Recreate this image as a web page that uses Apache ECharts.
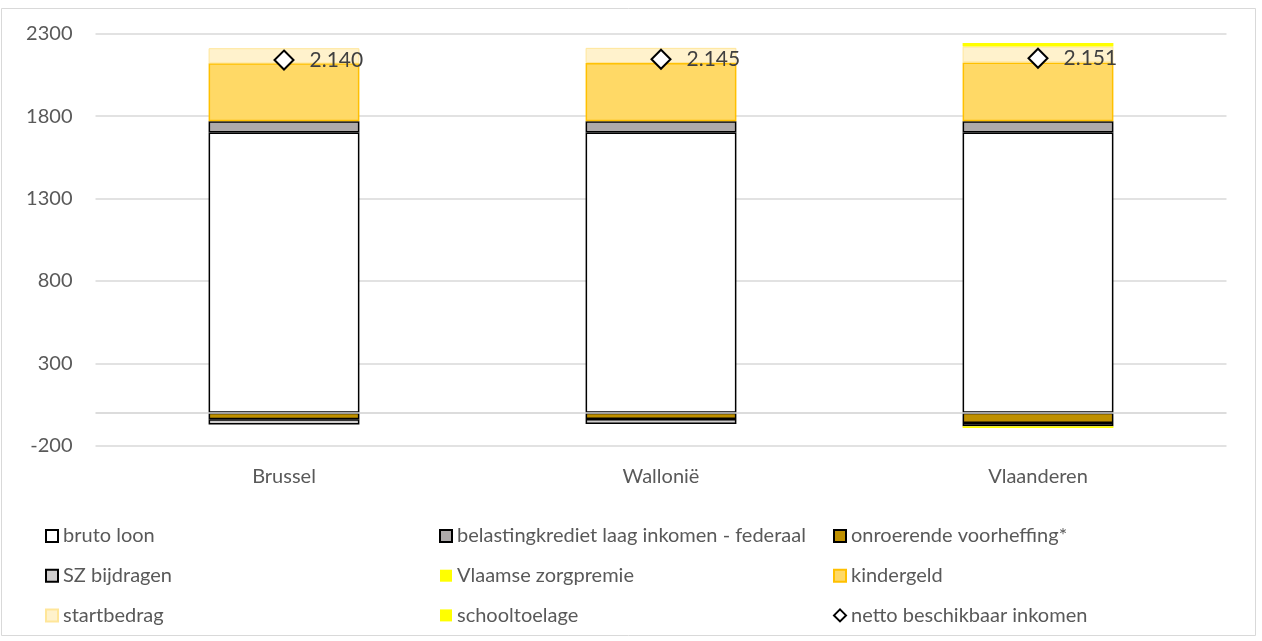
<!DOCTYPE html>
<html>
<head>
<meta charset="utf-8">
<script src="https://cdn.jsdelivr.net/npm/echarts@6/dist/echarts.min.js"></script>
<style>
  html, body { margin: 0; padding: 0; background: #fff; }
  #chart { width: 1262px; height: 641px; }
</style>
</head>
<body>
<div id="chart"></div>
<script>
// Monthly budget per region (EUR), stacked components and resulting net income
const regions = ['Brussel', 'Wallonië', 'Vlaanderen'];
const brutoLoon       = [1700, 1700, 1700];
const belastingkrediet = [68, 68, 68];
const onroerende      = [-40, -38, -62];
const szBijdragen     = [-32, -31, -20];
const zorgpremie      = [0, 0, -10];
const kindergeld      = [352, 354, 358];
const startbedrag     = [92, 92, 96];
const schooltoelage   = [0, 0, 21];
const netto           = [2140, 2145, 2151];
const yTicks = { min: -200, max: 2300, interval: 500 };

const FONT = 'Lato';
const TEXT = '#595959';

function barSeries(name, data, fill, border, bw, extra) {
  return Object.assign({
    name: name,
    type: 'bar',
    stack: 'total',
    barWidth: '40%',
    data: data,
    itemStyle: { color: fill, borderColor: border, borderWidth: bw },
    emphasis: { disabled: true }
  }, extra || {});
}

const series = [
  barSeries('bruto loon', brutoLoon, '#ffffff', '#000000', 1.5, {
    markLine: {
      silent: true,
      symbol: 'none',
      label: { show: false },
      lineStyle: { color: '#d0d0d0', type: 'solid', width: 1.5 },
      data: [{ yAxis: 0 }],
      z: 10
    }
  }),
  barSeries('belastingkrediet laag inkomen - federaal', belastingkrediet, '#aeaaaa', '#000000', 1.5),
  barSeries('onroerende voorheffing*', onroerende, '#bf9000', '#000000', 1.5),
  barSeries('SZ bijdragen', szBijdragen, '#d0cece', '#000000', 1.5),
  barSeries('Vlaamse zorgpremie', zorgpremie, '#ffff00', '#ffff00', 0),
  barSeries('kindergeld', kindergeld, '#ffd966', '#ffc000', 1.5),
  barSeries('startbedrag', startbedrag, '#fff2cc', '#ffe699', 1),
  barSeries('schooltoelage', schooltoelage, '#ffff00', '#ffff00', 0),
  {
    name: 'netto beschikbaar inkomen',
    type: 'scatter',
    data: netto,
    symbol: 'diamond',
    symbolSize: [19, 19],
    z: 20,
    itemStyle: { color: '#ffffff', borderColor: '#000000', borderWidth: 2, opacity: 1 },
    emphasis: { disabled: true },
    label: {
      show: true,
      position: 'right',
      distance: 15,
      fontFamily: FONT,
      fontSize: 21,
      color: '#404040',
      formatter: p => p.value.toLocaleString('nl-BE')
    }
  }
];

function legendCol(left, names) {
  return {
    orient: 'vertical',
    left: left,
    top: 526,
    padding: 0,
    icon: 'rect',
    itemWidth: 12,
    itemHeight: 12,
    itemGap: 19.7,
    selectedMode: false,
    textStyle: { fontFamily: FONT, fontSize: 20, color: TEXT, lineHeight: 20 },
    data: names
  };
}

const chart = echarts.init(document.getElementById('chart'), null, { renderer: 'canvas' });
chart.setOption({
  animation: false,
  backgroundColor: '#ffffff',
  grid: { left: 95.5, right: 35.5, top: 33.7, height: 412, containLabel: false },
  xAxis: {
    type: 'category',
    data: regions,
    axisLine: { show: false, onZero: false },
    axisTick: { show: false },
    axisLabel: { margin: 21, fontFamily: FONT, fontSize: 20, color: TEXT }
  },
  yAxis: {
    type: 'value',
    min: yTicks.min,
    max: yTicks.max,
    interval: yTicks.interval,
    axisLine: { show: false },
    axisTick: { show: false },
    splitLine: { lineStyle: { color: '#d9d9d9', width: 1.5 } },
    axisLabel: { margin: 23, fontFamily: FONT, fontSize: 20, color: TEXT, formatter: v => String(v) }
  },
  legend: [
    legendCol(45, ['bruto loon', 'SZ bijdragen', 'startbedrag']),
    legendCol(439, ['belastingkrediet laag inkomen - federaal', 'Vlaamse zorgpremie', 'schooltoelage']),
    legendCol(833, ['onroerende voorheffing*', 'kindergeld',
      { name: 'netto beschikbaar inkomen', icon: 'diamond', itemStyle: { borderWidth: 2 } }])
  ],
  graphic: [{
    type: 'rect',
    shape: { x: 1.5, y: 8.5, width: 1254, height: 627 },
    style: { fill: 'none', stroke: '#d9d9d9', lineWidth: 1 },
    silent: true,
    z: -1
  }],
  series: series
});
</script>
</body>
</html>
